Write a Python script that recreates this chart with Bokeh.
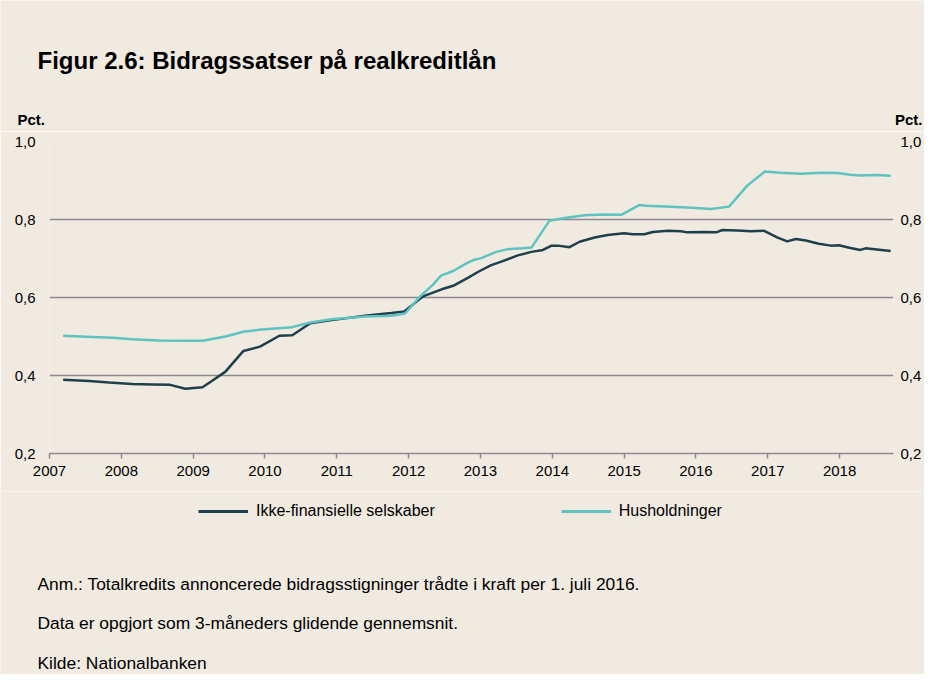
from bokeh.plotting import figure
from bokeh.models import FixedTicker, LinearAxis, Label, Legend, LegendItem, Range1d
from bokeh.embed import file_html
from bokeh.resources import INLINE

# ---------------- data ----------------
years_ikke = [2007.19, 2007.55, 2007.83, 2008.15, 2008.43, 2008.68, 2008.89, 2009.13, 2009.26,
              2009.45, 2009.70, 2009.93, 2010.20, 2010.38, 2010.63, 2010.93, 2011.39, 2011.76,
              2011.94, 2012.20, 2012.46, 2012.62, 2012.83, 2012.97, 2013.15, 2013.29, 2013.52,
              2013.71, 2013.87, 2013.99, 2014.08, 2014.24, 2014.38, 2014.59, 2014.77, 2015.00,
              2015.12, 2015.28, 2015.40, 2015.61, 2015.79, 2015.88, 2016.12, 2016.28, 2016.37,
              2016.58, 2016.76, 2016.95, 2017.13, 2017.27, 2017.39, 2017.53, 2017.71, 2017.88,
              2017.99, 2018.15, 2018.29, 2018.36, 2018.52, 2018.71]
ikke = [0.389, 0.386, 0.382, 0.378, 0.377, 0.376, 0.366, 0.370, 0.386,
        0.410, 0.463, 0.474, 0.502, 0.503, 0.534, 0.542, 0.553, 0.560,
        0.564, 0.603, 0.621, 0.630, 0.651, 0.666, 0.683, 0.692, 0.708,
        0.717, 0.722, 0.733, 0.733, 0.729, 0.743, 0.754, 0.760, 0.765,
        0.762, 0.762, 0.768, 0.771, 0.770, 0.767, 0.768, 0.767, 0.773,
        0.772, 0.770, 0.771, 0.754, 0.744, 0.750, 0.746, 0.738, 0.733,
        0.734, 0.727, 0.722, 0.726, 0.723, 0.719]

years_hus = [2007.19, 2007.60, 2007.88, 2008.15, 2008.52, 2008.85, 2009.13, 2009.45, 2009.70,
             2009.91, 2010.24, 2010.38, 2010.63, 2010.93, 2011.39, 2011.76, 2011.95, 2012.16,
             2012.34, 2012.45, 2012.62, 2012.81, 2012.90, 2013.01, 2013.22, 2013.38, 2013.57,
             2013.71, 2013.96, 2014.17, 2014.45, 2014.73, 2014.96, 2015.21, 2015.31, 2015.65,
             2015.88, 2016.21, 2016.46, 2016.72, 2016.96, 2017.18, 2017.46, 2017.74, 2017.97,
             2018.15, 2018.29, 2018.52, 2018.71]
hus = [0.502, 0.499, 0.497, 0.493, 0.490, 0.489, 0.489, 0.500, 0.512,
       0.517, 0.522, 0.524, 0.536, 0.544, 0.551, 0.553, 0.559, 0.603,
       0.633, 0.656, 0.668, 0.688, 0.696, 0.701, 0.717, 0.724, 0.726,
       0.728, 0.797, 0.804, 0.811, 0.813, 0.812, 0.837, 0.835, 0.833,
       0.831, 0.827, 0.833, 0.888, 0.923, 0.920, 0.917, 0.920, 0.919,
       0.915, 0.913, 0.914, 0.912]

x_ticks = list(range(2007, 2019))
x_tick_labels = [str(y) for y in x_ticks]
y_ticks = [0.2, 0.4, 0.6, 0.8, 1.0]
y_tick_labels = ["0,2", "0,4", "0,6", "0,8", "1,0"]

series_names = ["Ikke-finansielle selskaber", "Husholdninger"]
title_text = "Figur 2.6: Bidragssatser på realkreditlån"
unit_text = "Pct."
notes = ["Anm.: Totalkredits annoncerede bidragsstigninger trådte i kraft per 1. juli 2016.",
         "Data er opgjort som 3-måneders glidende gennemsnit.",
         "Kilde: Nationalbanken"]

# ---------------- styling / layout ----------------
BG = "#F0EAE0"
DARK = "#1E3F4C"
TEAL = "#5EC3C1"
GRID = "#8A8A8A"
FONT = "Liberation Sans"
LW = 2.5

W = 924
H_HEAD = 131
H_MAIN = 360
H_FOOT = 674 - H_HEAD - H_MAIN
FL, FW = 49, 844
FT, FH = 10, 312


def text_panel(height):
    f = figure(width=W, height=height, output_backend="svg", toolbar_location=None,
               x_range=Range1d(0, W), y_range=Range1d(height, 0),
               x_axis_location=None, y_axis_location=None,
               min_border=0, min_border_left=0, min_border_right=0,
               min_border_top=0, min_border_bottom=0)
    f.grid.visible = False
    f.background_fill_color = BG
    f.border_fill_color = BG
    f.outline_line_color = None
    return f


# ---- header: title and unit labels ----
head = text_panel(H_HEAD)
head.add_layout(Label(x=37, y=60, text=title_text, text_font=FONT,
                      text_font_size="24px", text_font_style="bold",
                      text_color="#000000", text_baseline="alphabetic"))
head.add_layout(Label(x=17, y=119, text=unit_text, text_font=FONT,
                      text_font_size="15px", text_font_style="bold",
                      text_color="#000000", text_baseline="alphabetic"))
head.add_layout(Label(x=922, y=119, text=unit_text, text_font=FONT,
                      text_font_size="15px", text_font_style="bold",
                      text_color="#000000", text_baseline="alphabetic",
                      text_align="right"))

# ---- main chart ----
p = figure(width=W, height=H_MAIN, output_backend="svg", toolbar_location=None,
           x_range=Range1d(2007.0, 2018.75), y_range=Range1d(0.2, 1.0),
           min_border_left=FL, min_border_right=W - FL - FW,
           min_border_top=FT, min_border_bottom=H_MAIN - FT - FH)
p.background_fill_color = BG
p.border_fill_color = BG
p.outline_line_color = None

p.xgrid.visible = False
p.ygrid.ticker = FixedTicker(ticks=y_ticks)
p.ygrid.grid_line_color = GRID
p.ygrid.grid_line_width = 1.6

xa = p.xaxis[0]
xa.ticker = FixedTicker(ticks=x_ticks)
xa.major_label_overrides = {t: l for t, l in zip(x_ticks, x_tick_labels)}
xa.axis_line_color = GRID
xa.axis_line_width = 1.6
xa.major_tick_line_color = GRID
xa.major_tick_line_width = 1.5
xa.major_tick_out = 5
xa.major_tick_in = 0
xa.minor_tick_line_color = None
xa.minor_tick_out = 0
xa.major_label_standoff = 7
xa.major_label_text_font = FONT
xa.major_label_text_font_size = "15px"
xa.major_label_text_color = "#000000"

ya = p.yaxis[0]
ya_r = LinearAxis()
p.add_layout(ya_r, "right")
for ax, so in ((ya, 14), (ya_r, 7)):
    ax.ticker = FixedTicker(ticks=y_ticks)
    ax.major_label_overrides = {t: l for t, l in zip(y_ticks, y_tick_labels)}
    ax.axis_line_color = None
    ax.major_tick_line_color = None
    ax.major_tick_out = 0
    ax.major_tick_in = 0
    ax.minor_tick_line_color = None
    ax.minor_tick_out = 0
    ax.major_label_standoff = so
    ax.major_label_text_font = FONT
    ax.major_label_text_font_size = "15px"
    ax.major_label_text_color = "#000000"

p.line(years_ikke, ikke, line_color=DARK, line_width=LW)
p.line(years_hus, hus, line_color=TEAL, line_width=LW)

# ---- footer: legend and notes ----
foot = text_panel(H_FOOT)
# hidden copies of the two series, only used to give the legend its line samples
k1 = foot.line(years_ikke, ikke, line_color=DARK, line_width=3, visible=False)
k2 = foot.line(years_hus, hus, line_color=TEAL, line_width=3, visible=False)
legend = Legend(items=[LegendItem(label=series_names[0], renderers=[k1]),
                       LegendItem(label=series_names[1], renderers=[k2])],
                orientation="horizontal", location=(198, H_FOOT - 30),
                glyph_width=50, glyph_height=20, label_height=20,
                label_standoff=8, spacing=126, padding=0, margin=0,
                border_line_alpha=0, background_fill_alpha=0,
                inactive_fill_alpha=0,
                label_text_font=FONT, label_text_font_size="16px",
                label_text_color="#000000")
foot.add_layout(legend, "center")
for note, yy in zip(notes, [92, 131, 171]):
    foot.add_layout(Label(x=37, y=yy, text=note, text_font=FONT,
                          text_font_size="17.4px", text_color="#000000",
                          text_baseline="middle"))

open("out.html", "w").write(file_html([head, p, foot], INLINE))
